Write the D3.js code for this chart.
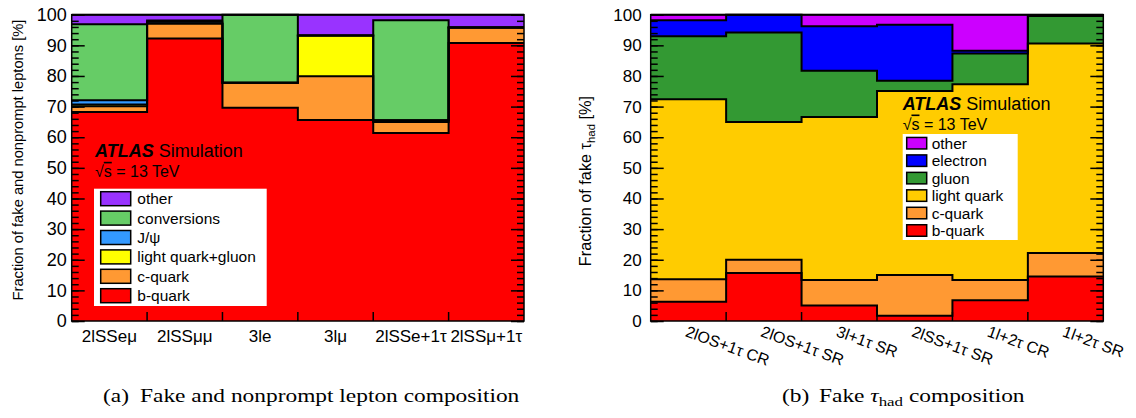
<!DOCTYPE html>
<html>
<head>
<meta charset="utf-8">
<script src="https://cdn.jsdelivr.net/npm/d3@7"></script>
<style>
    body { margin: 0; background: #fff; }
    svg { display: block; font-family: "Liberation Sans", Arial, sans-serif; }
    .caption { font-family: "Liberation Serif", "Times New Roman", serif; }
</style>
</head>
<body>
<svg id="chart" width="1136" height="418"></svg>
<script>
// (a) fake and nonprompt lepton composition [%]
const leptonRegions = ["2lSSeμ", "2lSSμμ", "3le", "3lμ", "2lSSe+1τ", "2lSSμ+1τ"];
const leptonBQuark = [68.2, 92.2, 69.6, 65.6, 61.4, 90.8];
const leptonCQuark = [1.9, 4.9, 8.2, 14.3, 3.6, 5.0];
const leptonLightGluon = [0.6, 0, 0, 13.3, 0.5, 0];
const leptonJpsi = [1.4, 0.6, 0, 0, 0, 0];
const leptonConversions = [24.8, 0.4, 22.2, 0, 32.7, 0];
const leptonOther = [3.1, 1.9, 0, 6.8, 1.8, 4.2];

// (b) fake tau_had composition [%]
const tauRegions = ["2lOS+1τ CR", "2lOS+1τ SR", "3l+1τ SR", "2lSS+1τ SR", "1l+2τ CR", "1l+2τ SR"];
const tauBQuark = [6.3, 15.7, 5.1, 1.7, 6.8, 14.5];
const tauCQuark = [7.3, 4.3, 8.3, 13.3, 6.6, 7.7];
const tauLightQuark = [58.8, 45.0, 53.2, 60.1, 63.9, 68.4];
const tauGluon = [20.6, 29.2, 15.1, 3.3, 10.0, 9.0];
const tauElectron = [5.2, 5.8, 14.5, 18.3, 0.9, 0.1];
const tauOther = [1.8, 0, 3.8, 3.3, 11.8, 0.3];

const yTicks = [0, 10, 20, 30, 40, 50, 60, 70, 80, 90, 100];

const svg = d3.select("#chart");

function drawPanel(cfg) {
    const x0 = cfg.left, x1 = cfg.right, yTop = 14.7, yBot = 321;
    const n = cfg.regions.length;

    const g = svg.append("g");

    const x = d3.scaleBand().domain(cfg.regions).range([x0, x1]).padding(0);
    const xEdge = d3.scaleLinear().domain([0, n]).range([x0, x1]);
    const y = d3.scaleLinear().domain([0, 100]).range([yBot, yTop]);

    // one row per region, keys stacked bottom -> top
    const rows = cfg.regions.map((r, i) => {
        let row = {region: r};
        cfg.series.forEach(s => row[s.name] = s.values[i]);
        return row;
    });
    const stacked = d3.stack().keys(cfg.series.map(s => s.name))(rows);

    // step points: one per bin edge
    const stepPts = layer => {
        let pts = layer.map((d, i) => ({e: i, v0: d[0], v1: d[1]}));
        let last = pts[pts.length - 1];
        pts.push({e: n, v0: last.v0, v1: last.v1});
        return pts;
    };

    const area = d3.area()
        .curve(d3.curveStepAfter)
        .x(d => xEdge(d.e))
        .y0(d => y(d.v0))
        .y1(d => y(d.v1));

    const line = d3.line()
        .curve(d3.curveStepAfter)
        .x(d => xEdge(d.e))
        .y(d => y(d.v1));

    g.selectAll(".layer")
        .data(stacked)
        .enter().append("path")
        .attr("class", "layer")
        .attr("d", d => area(stepPts(d)))
        .attr("fill", (d, i) => cfg.series[i].color)
        .attr("stroke", "none");

    // black outline along the top of every cumulative histogram
    g.selectAll(".outline")
        .data(stacked)
        .enter().append("path")
        .attr("class", "outline")
        .attr("d", d => line(stepPts(d)))
        .attr("fill", "none")
        .attr("stroke", "#000")
        .attr("stroke-width", 2);

    // x ticks at the bin boundaries
    g.selectAll(".binedge")
        .data(d3.range(1, n))
        .enter().append("line")
        .attr("x1", d => xEdge(d)).attr("x2", d => xEdge(d))
        .attr("y1", yBot).attr("y2", yBot - 9)
        .attr("stroke", "#000").attr("stroke-width", 1.5);

    // y axis, major + minor ticks on both sides (inward)
    const yMinor = d3.range(0, 101, 2);
    const axL = g.append("g").attr("transform", `translate(${x0},0)`)
        .call(d3.axisLeft(y).tickValues(yTicks).tickSize(-13).tickPadding(cfg.tickPad).tickFormat(d3.format("d")));
    axL.select(".domain").remove();
    axL.selectAll("line").attr("stroke-width", 1.5);
    axL.selectAll("text").attr("font-size", cfg.tickFont).attr("fill", "#000")
        .attr("font-family", "Liberation Sans, Arial, sans-serif");

    const axLm = g.append("g").attr("transform", `translate(${x0},0)`)
        .call(d3.axisLeft(y).tickValues(yMinor).tickSize(-7).tickFormat(""));
    axLm.select(".domain").remove();
    axLm.selectAll("line").attr("stroke-width", 1.5);

    const axR = g.append("g").attr("transform", `translate(${x1},0)`)
        .call(d3.axisRight(y).tickValues(yTicks).tickSize(-13).tickFormat(""));
    axR.select(".domain").remove();
    axR.selectAll("line").attr("stroke-width", 1.5);
    const axRm = g.append("g").attr("transform", `translate(${x1},0)`)
        .call(d3.axisRight(y).tickValues(yMinor).tickSize(-7).tickFormat(""));
    axRm.select(".domain").remove();
    axRm.selectAll("line").attr("stroke-width", 1.5);

    // frame
    g.append("rect")
        .attr("x", x0).attr("y", yTop)
        .attr("width", x1 - x0).attr("height", yBot - yTop)
        .attr("fill", "none").attr("stroke", "#000").attr("stroke-width", 1.5);

    // x labels
    if (cfg.rotate) {
        g.selectAll(".xlab")
            .data(cfg.regions)
            .enter().append("text")
            .attr("class", "xlab")
            .attr("transform", d => `translate(${x(d) + x.bandwidth() / 2 - 4},336) rotate(${cfg.rotate})`)
            .attr("font-size", cfg.xFont)
            .text(d => d);
    } else {
        g.selectAll(".xlab")
            .data(cfg.regions)
            .enter().append("text")
            .attr("class", "xlab")
            .attr("x", d => x(d) + x.bandwidth() / 2)
            .attr("y", 342)
            .attr("text-anchor", "middle")
            .attr("font-size", cfg.xFont)
            .text(d => d);
    }

    // y title
    const yt = g.append("text")
        .attr("transform", `translate(${cfg.yTitleX},${cfg.yTitleY}) rotate(-90)`)
        .attr("text-anchor", "middle")
        .attr("font-size", cfg.yTitleFont);
    cfg.yTitle.forEach(p => {
        const t = yt.append("tspan").text(p.t);
        if (p.sub) t.attr("font-size", cfg.yTitleFont * 0.7).attr("dy", 4);
        if (p.up) t.attr("dy", -4);
    });

    // ATLAS label
    const at = g.append("text")
        .attr("x", cfg.atlasX).attr("y", cfg.atlasY)
        .attr("font-size", 18);
    at.append("tspan").attr("font-weight", "bold").attr("font-style", "italic").text("ATLAS");
    at.append("tspan").text(" Simulation");
    const rs = g.append("text")
        .attr("x", cfg.atlasX).attr("y", cfg.atlasY + 19.5)
        .attr("font-size", 16);
    rs.append("tspan").text("√");
    rs.append("tspan").style("text-decoration", "overline").text("s");
    rs.append("tspan").text(" = 13 TeV");

    // legend
    const lg = cfg.legend;
    g.append("rect")
        .attr("x", lg.x).attr("y", lg.y)
        .attr("width", lg.w).attr("height", lg.h)
        .attr("fill", "#fff");
    const items = cfg.series.slice().reverse();
    const li = g.selectAll(".leg")
        .data(items)
        .enter().append("g")
        .attr("class", "leg")
        .attr("transform", (d, i) => `translate(0,${lg.firstY + i * lg.step})`);
    li.append("rect")
        .attr("x", lg.swX).attr("y", -lg.swH / 2)
        .attr("width", lg.swW).attr("height", lg.swH)
        .attr("fill", d => d.color)
        .attr("stroke", "#000").attr("stroke-width", 1.5);
    li.append("text")
        .attr("x", lg.textX).attr("y", 0)
        .attr("dy", "0.36em")
        .attr("font-size", lg.font)
        .text(d => d.label);
}

drawPanel({
    left: 71.7, right: 524,
    regions: leptonRegions,
    series: [
        {name: "b", label: "b-quark", values: leptonBQuark, color: "#ff0000"},
        {name: "c", label: "c-quark", values: leptonCQuark, color: "#ff9933"},
        {name: "lg", label: "light quark+gluon", values: leptonLightGluon, color: "#ffff00"},
        {name: "jpsi", label: "J/ψ", values: leptonJpsi, color: "#3399ff"},
        {name: "conv", label: "conversions", values: leptonConversions, color: "#66cc66"},
        {name: "other", label: "other", values: leptonOther, color: "#9933ff"}
    ],
    tickPad: 5, tickFont: 18, xFont: 17,
    yTitle: [{t: "Fraction of fake and nonprompt leptons [%]"}],
    yTitleX: 22.5, yTitleY: 160, yTitleFont: 14.7,
    atlasX: 95, atlasY: 157.3,
    legend: {x: 94, y: 188.7, w: 172.7, h: 117.3, firstY: 198.7, step: 19.4,
             swX: 100.7, swW: 30, swH: 14, textX: 137.3, font: 15.5}
});

drawPanel({
    left: 650.7, right: 1103.3,
    regions: tauRegions,
    series: [
        {name: "b", label: "b-quark", values: tauBQuark, color: "#ff0000"},
        {name: "c", label: "c-quark", values: tauCQuark, color: "#ff9933"},
        {name: "lq", label: "light quark", values: tauLightQuark, color: "#ffcc00"},
        {name: "g", label: "gluon", values: tauGluon, color: "#339933"},
        {name: "e", label: "electron", values: tauElectron, color: "#0000ff"},
        {name: "other", label: "other", values: tauOther, color: "#cc00ff"}
    ],
    tickPad: 9, tickFont: 17, xFont: 16, rotate: 20,
    yTitle: [{t: "Fraction of fake τ"}, {t: "had", sub: true}, {t: " [%]", up: true}],
    yTitleX: 591, yTitleY: 181, yTitleFont: 16.3,
    atlasX: 902.7, atlasY: 110,
    legend: {x: 902.7, y: 134, w: 115, h: 106, firstY: 143.2, step: 17.46,
             swX: 906.7, swW: 20, swH: 11.5, textX: 931.7, font: 15.5}
});

// sub-figure captions (the LaTeX text is wider than plain 18px Times)
function caption(x, y, label, parts) {
    svg.append("text").attr("class", "caption")
        .attr("transform", `translate(${x},${y}) scale(1.3,1)`)
        .attr("font-size", 18).text(label);
    const t = svg.append("text").attr("class", "caption")
        .attr("transform", `translate(${x + 37},${y}) scale(1.3,1)`)
        .attr("font-size", 18);
    parts.forEach(p => {
        const s = t.append("tspan").text(p.t);
        if (p.it) s.attr("font-style", "italic");
        if (p.sub) s.attr("font-size", 13).attr("dy", 4);
        if (p.up) s.attr("dy", -4);
    });
}
caption(103, 402, "(a)", [{t: "Fake and nonprompt lepton composition"}]);
caption(782, 402, "(b)", [{t: "Fake "}, {t: "τ", it: true}, {t: "had", sub: true}, {t: " composition", up: true}]);
</script>
</body>
</html>
